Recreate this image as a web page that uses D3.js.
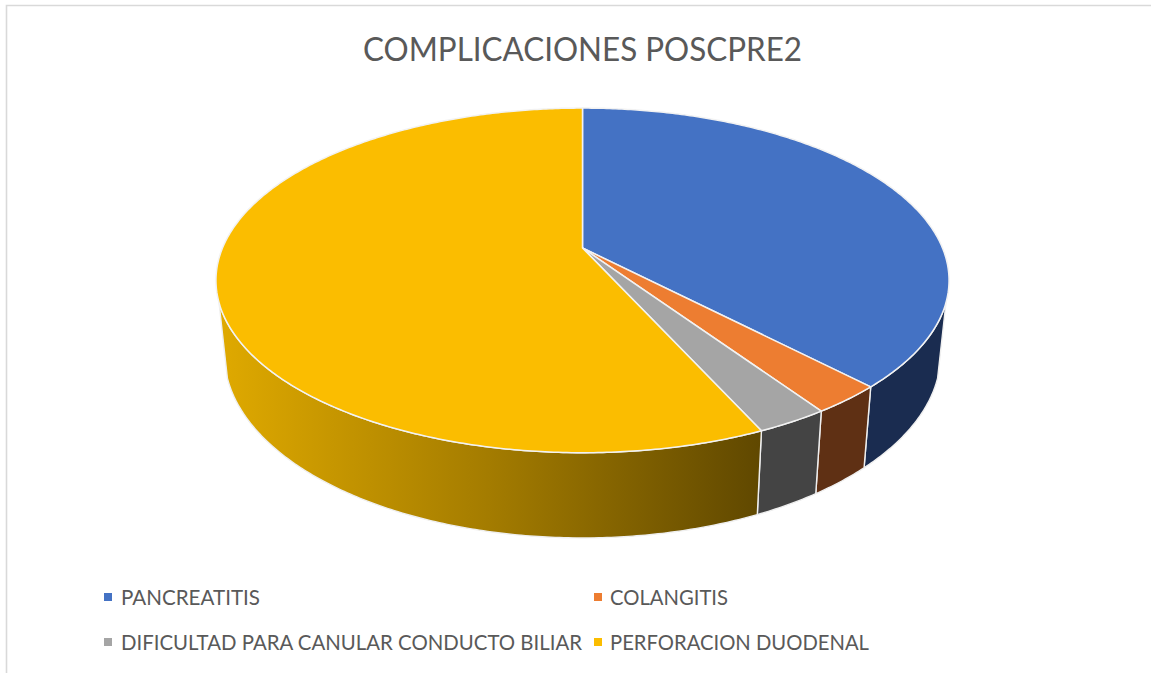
<!DOCTYPE html>
<html>
<head>
<meta charset="utf-8">
<script src="https://cdn.jsdelivr.net/npm/d3@7"></script>
<style>
html,body{margin:0;padding:0;background:#fff;overflow:hidden}
svg{display:block}
text{font-family:Lato,"Open Sans",sans-serif;fill:#595959}
</style>
</head>
<body>
<svg id="chart" width="1151" height="673"></svg>
<script>
const title = "COMPLICACIONES POSCPRE2";
const categories = ["PANCREATITIS", "COLANGITIS", "DIFICULTAD PARA CANULAR CONDUCTO BILIAR", "PERFORACION DUODENAL"];
const values = [14, 1, 1, 21];
const topColors = ["#4472C4", "#ED7D31", "#A5A5A5", "#FBBD00"];
const sideColors = ["#1A2C50", "#5F3014", "#444444", "url(#sideGold)"];

const svg = d3.select("#chart");
const defs = svg.append("defs");
const grad = defs.append("linearGradient").attr("id", "sideGold")
  .attr("gradientUnits", "userSpaceOnUse")
  .attr("x1", 216).attr("x2", 760).attr("y1", 0).attr("y2", 0);
[[0, "#E0AA00"], [0.5, "#A47C00"], [1, "#604800"]].forEach(([o, c]) =>
  grad.append("stop").attr("offset", o).attr("stop-color", c));

// chart frame (top and left edges only are inside the photographed area)
svg.append("path").attr("d", "M6.5,673V5.5H1151").attr("fill", "none")
  .attr("stroke", "#D9D9D9").attr("stroke-width", 1.6);

// perspective projection of a unit disc on to the picture
const K = 0.188;
function projector(cx, c, a, b) {
  return (angle) => {
    const u = Math.sin(angle), v = Math.cos(angle), w = 1 + K * v;
    return [cx + c * u / w, (a * v + b) / w];
  };
}
const topRim = projector(582.5, 360, -119.6, 248);
const lowRim = projector(582.5, 351.7, -116.8, 320);

const pie = d3.pie().sort(null).value(d => d)(values);
const line = d3.line();
const sample = (a0, a1) => {
  const n = Math.max(2, Math.ceil(Math.abs(a1 - a0) / 0.01));
  return d3.range(n + 1).map(i => a0 + (a1 - a0) * i / n);
};

// visible part of the wall lies between the two silhouette angles
const wallStart = 108 * Math.PI / 180, wallEnd = 252 * Math.PI / 180;
const walls = pie.map((d, i) => ({
  i,
  a0: Math.max(d.startAngle, wallStart),
  a1: Math.min(d.endAngle, wallEnd)
})).filter(d => d.a1 > d.a0);

svg.append("g").selectAll("path").data(walls).join("path")
  .attr("d", d => {
    const angs = sample(d.a0, d.a1);
    return line(angs.map(topRim).concat(angs.slice().reverse().map(lowRim))) + "Z";
  })
  .attr("fill", d => sideColors[d.i])
  .attr("stroke", "#EFEFEF").attr("stroke-width", 1.4).attr("stroke-linejoin", "round");

svg.append("g").selectAll("path").data(pie).join("path")
  .attr("d", d => line([[582.5, 248]].concat(sample(d.startAngle, d.endAngle).map(topRim))) + "Z")
  .attr("fill", (d, i) => topColors[i])
  .attr("stroke", "#F2F2F2").attr("stroke-width", 1.5).attr("stroke-linejoin", "round");

svg.append("text").attr("x", 582.5).attr("y", 61).attr("text-anchor", "middle")
  .attr("font-size", 33).attr("textLength", 439).attr("lengthAdjust", "spacingAndGlyphs").text(title);

const swatchX = d3.scaleOrdinal().domain([0, 1]).range([104, 594]);
const labelX = d3.scaleOrdinal().domain([0, 1]).range([121, 610]);
const legendY = d3.scaleOrdinal().domain([0, 1]).range([605, 650]);
const legendW = [139, 118, 461, 259];
const lg = svg.append("g").selectAll("g").data(categories).join("g")
  .attr("transform", (d, i) => `translate(0,${legendY(Math.floor(i / 2))})`);
lg.append("rect").attr("x", (d, i) => swatchX(i % 2)).attr("y", -12).attr("width", 8).attr("height", 8)
  .attr("fill", (d, i) => topColors[i]);
lg.append("text").attr("x", (d, i) => labelX(i % 2)).attr("y", 0).attr("font-size", 20.5)
  .attr("textLength", (d, i) => legendW[i]).attr("lengthAdjust", "spacingAndGlyphs").text(d => d);
</script>
</body>
</html>
